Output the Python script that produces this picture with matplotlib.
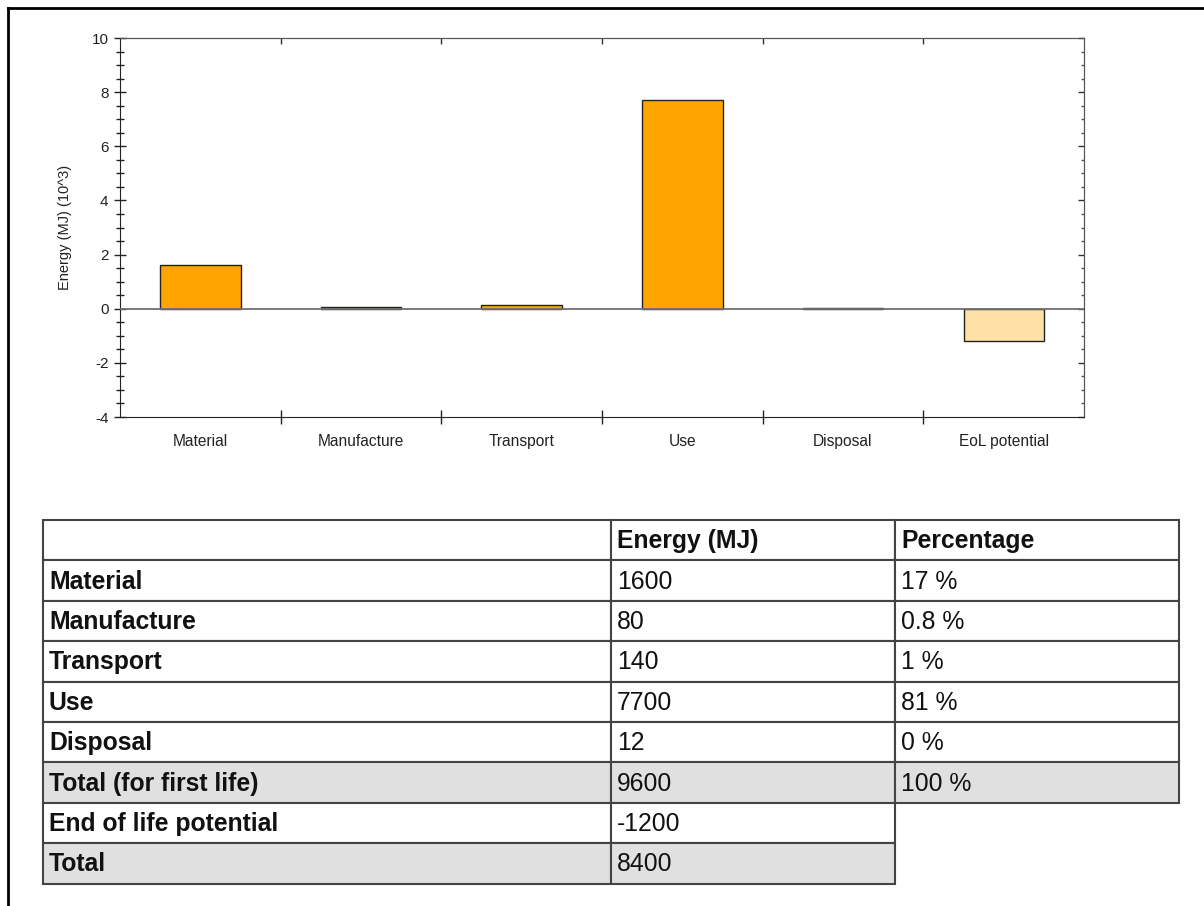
import numpy as np
import matplotlib.pyplot as plt
from matplotlib.patches import Rectangle
from matplotlib.lines import Line2D
from matplotlib.ticker import MultipleLocator

plt.rcParams['font.family'] = ['Liberation Sans', 'DejaVu Sans']
plt.rcParams['axes.unicode_minus'] = False

# chart data (10^3 MJ)
phases = ['Material', 'Manufacture', 'Transport', 'Use', 'Disposal', 'EoL potential']
energy_k = [1.6, 0.08, 0.14, 7.7, 0.012, -1.2]
bar_colors = ['#ffa500', '#ffa500', '#ffa500', '#ffa500', '#ffa500', '#ffe0a6']

# table data
row_labels = ['Material', 'Manufacture', 'Transport', 'Use', 'Disposal',
              'Total (for first life)', 'End of life potential', 'Total']
energy_mj = ['1600', '80', '140', '7700', '12', '9600', '-1200', '8400']
percentage = ['17 %', '0.8 %', '1 %', '81 %', '0 %', '100 %', None, None]
shaded_rows = [5, 7]

W, H = 1204, 906
fig = plt.figure(figsize=(W / 100, H / 100), dpi=100)


def fx(px):
    return px / W


def fy(py):
    return 1 - py / H


# --- bar chart ---
ax = fig.add_axes([fx(120), fy(417), fx(1084) - fx(120), fy(38) - fy(417)])
x = np.arange(len(phases))
ax.bar(x, energy_k, width=0.5, color=bar_colors, edgecolor='#222222', linewidth=1, zorder=3)
ax.axhline(0, color='#707070', lw=1.3, zorder=4)
ax.set_xlim(-0.5, len(phases) - 0.5)
ax.set_ylim(-4, 10)

ax.yaxis.set_major_locator(MultipleLocator(2))
ax.yaxis.set_minor_locator(MultipleLocator(0.5))
ax.tick_params(axis='y', which='major', direction='inout', length=8.6, width=1,
               labelsize=11, pad=4, colors='#222222')
ax.tick_params(axis='y', which='minor', direction='inout', length=5.8, width=1, color='#222222')

ax.set_xticks(np.arange(len(phases) - 1) + 0.5)
ax.set_xticks(x, minor=True)
ax.set_xticklabels([])
ax.set_xticklabels(phases, minor=True)
ax.tick_params(axis='x', which='major', direction='inout', length=9.4, width=1, color='#222222')
ax.tick_params(axis='x', which='minor', length=0, labelsize=11.2, pad=12, labelcolor='#222222')

ax.set_ylabel('Energy (MJ) (10^3)', fontsize=10.5, color='#222222', labelpad=14)

for side in ['left', 'bottom']:
    ax.spines[side].set_color('#222222')
for side in ['top', 'right']:
    ax.spines[side].set_color('#555555')

top = ax.secondary_xaxis('top')
top.set_xticks(np.arange(len(phases) - 1) + 0.5)
top.set_xticklabels([])
top.tick_params(direction='in', length=4.3, width=1, color='#333333')
top.spines['top'].set_color('#555555')

right = ax.secondary_yaxis('right')
right.yaxis.set_major_locator(MultipleLocator(2))
right.yaxis.set_minor_locator(MultipleLocator(0.5))
right.set_yticklabels([])
right.tick_params(which='major', direction='in', length=4.3, width=1, color='#333333')
right.tick_params(which='minor', direction='in', length=2.2, width=1, color='#555555')
right.spines['right'].set_color('#555555')

# --- table ---
col_edges = [43, 611, 895, 1179]
row_top = 520
row_h = 40.4
line_c = '#444444'

cells = []
header = ['', 'Energy (MJ)', 'Percentage']
cells.append((header, False, True))
for i, name in enumerate(row_labels):
    cells.append(([name, energy_mj[i], percentage[i]], i in shaded_rows, False))

for r, (vals, shaded, is_header) in enumerate(cells):
    y0 = row_top + r * row_h
    ncols = 3 if vals[2] is not None or is_header else 2
    for c in range(ncols):
        x0, x1 = col_edges[c], col_edges[c + 1]
        rect = Rectangle((fx(x0), fy(y0 + row_h)), fx(x1) - fx(x0), fy(y0) - fy(y0 + row_h),
                         transform=fig.transFigure, facecolor='#e0e0e0' if shaded else 'white',
                         edgecolor=line_c, linewidth=1.5)
        fig.add_artist(rect)
        txt = vals[c]
        if txt:
            bold = (c == 0) or is_header
            fig.text(fx(x0 + 6), fy(y0 + row_h / 2 + 1), txt, fontsize=17.8,
                     fontweight='bold' if bold else 'normal', color='#111111',
                     ha='left', va='center')

# page border lines
fig.add_artist(Line2D([fx(8), fx(8)], [fy(8), 0], transform=fig.transFigure, color='black', lw=2))
fig.add_artist(Line2D([fx(8), 1], [fy(8), fy(8)], transform=fig.transFigure, color='black', lw=2))

fig.savefig('out.png', dpi=100)
